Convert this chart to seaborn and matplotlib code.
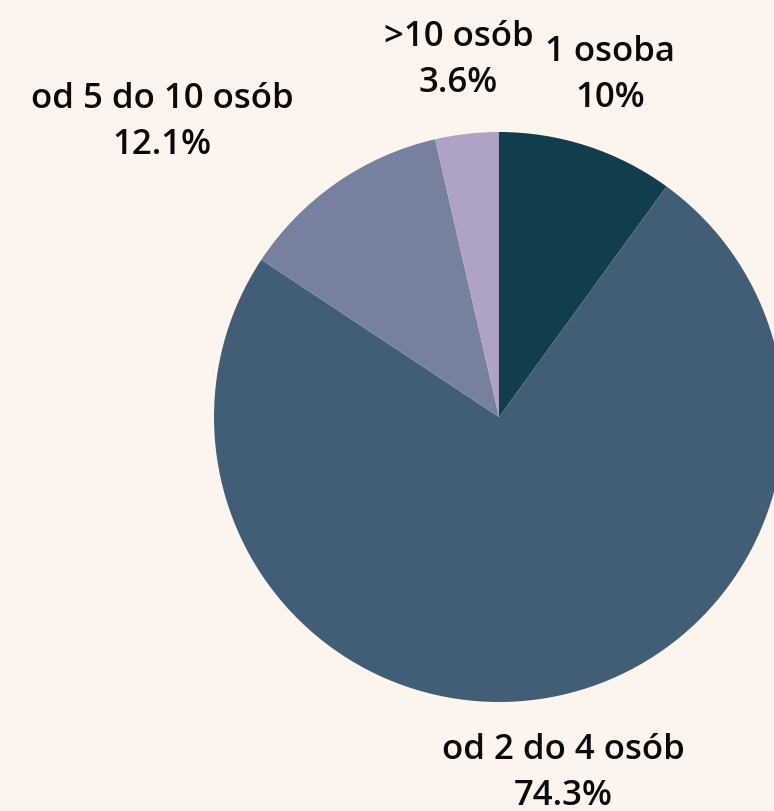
import matplotlib
matplotlib.use("Agg")
import matplotlib.pyplot as plt
import seaborn as sns

# dane z wykresu
categories = ["1 osoba", "od 2 do 4 osób", "od 5 do 10 osób", ">10 osób"]
shares = [10.0, 74.3, 12.1, 3.6]
share_labels = ["10%", "74.3%", "12.1%", "3.6%"]
colors = ["#113e4c", "#425e77", "#75819e", "#aea3c5"]

sns.set_theme(style="white")
plt.rcParams["font.family"] = ["Open Sans", "DejaVu Sans"]

bg = "#fdf4ee"
fig = plt.figure(figsize=(7.74, 8.12), dpi=100, facecolor=bg)
# oś dobrana tak, żeby koło miało promień ~285 px i wychodziło za prawą krawędź
ax = fig.add_axes([214 / 774, 109 / 812, 570 / 774, 570 / 812])
ax.set_facecolor(bg)

labels = [f"{c}\n{p}" for c, p in zip(categories, share_labels)]
wedges, texts = ax.pie(
    shares,
    labels=labels,
    colors=sns.color_palette(colors),
    startangle=90,
    counterclock=False,
    labeldistance=1.265,
    wedgeprops={"linewidth": 0},
    textprops={"fontsize": 25, "fontweight": "semibold", "color": "#0a0a0a",
               "multialignment": "center"},
)

# etykiety blisko pionu są wyśrodkowane, pozostałe wyrównane do boku
for t in texts:
    x, _ = t.get_position()
    if abs(x) < 0.5:
        t.set_horizontalalignment("center")
    t.set_linespacing(1.45)

ax.set_xlim(-1, 1)
ax.set_ylim(-1, 1)
ax.set_aspect("equal")
ax.axis("off")

fig.savefig("out.png", dpi=100, facecolor=bg)
